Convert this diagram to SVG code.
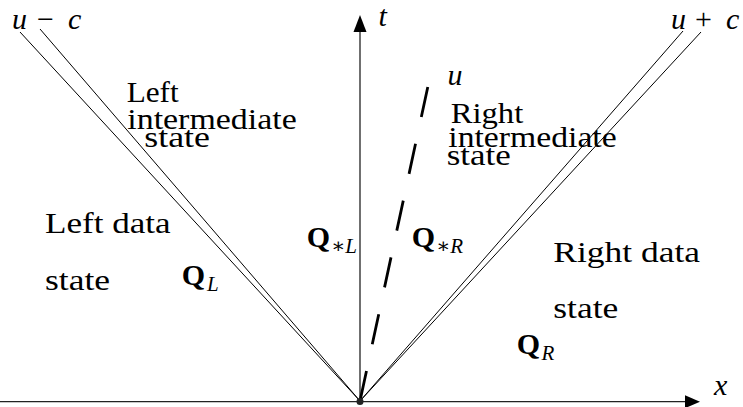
<svg xmlns="http://www.w3.org/2000/svg" width="743" height="407" viewBox="0 0 743 407">
<style>
.t{font-family:"Liberation Serif","Times New Roman",serif;font-size:30px;fill:#000}
.m{font-family:"Liberation Serif","Times New Roman",serif;font-size:30px;font-style:italic;fill:#000}
.q{font-family:"Liberation Serif","Times New Roman",serif;font-size:30px;font-weight:bold;fill:#000}
.s{font-family:"Liberation Serif","DejaVu Serif",serif;font-size:21px;font-style:italic;fill:#000}
.ln{stroke:#000;stroke-width:1;fill:none}
.ax{stroke:#222;stroke-width:1.3;fill:none}
</style>
<rect width="743" height="407" fill="#fff"/>
<g id="connectors">
  <line class="ax" x1="0" y1="401.7" x2="687" y2="401.7"/>
  <polygon points="700,401.7 685,395.2 685,408.2" fill="#000"/>
  <line class="ax" x1="360" y1="401.7" x2="360" y2="30"/>
  <polygon points="360,15 353.5,32 366.5,32" fill="#000"/>
  <line class="ln" x1="360" y1="401" x2="20" y2="32"/>
  <line class="ln" x1="360" y1="401" x2="40" y2="29"/>
  <line class="ln" x1="360" y1="401" x2="683" y2="31"/>
  <line class="ln" x1="360" y1="401" x2="701" y2="32"/>
  <line x1="360" y1="401" x2="427.8" y2="87" stroke="#000" stroke-width="2.8" stroke-dasharray="30.7 27.4" fill="none"/>
  <circle cx="360" cy="401.5" r="3.5" fill="#222"/>
</g>
<g id="axis-t"><text class="m" x="378.5" y="26">t</text></g>
<g id="axis-x"><text class="m" x="714" y="395">x</text></g>
<g id="wave-left">
  <text class="m" x="12" y="29.3">u</text>
  <text class="t" x="37" y="29.3">−</text>
  <text class="m" x="68" y="29.3">c</text>
</g>
<g id="wave-right">
  <text class="m" x="671" y="28.5">u</text>
  <text class="t" x="695" y="28.5">+</text>
  <text class="m" x="726" y="28.5">c</text>
</g>
<g id="wave-contact"><text class="m" x="447.5" y="85">u</text></g>
<g id="left-intermediate">
  <text class="t" x="126.7" y="101.7" textLength="52" lengthAdjust="spacingAndGlyphs">Left</text>
  <text class="t" x="127.3" y="129" textLength="169.4" lengthAdjust="spacingAndGlyphs">intermediate</text>
  <text class="t" x="144.3" y="146.7" textLength="65.7" lengthAdjust="spacingAndGlyphs">state</text>
</g>
<g id="right-intermediate">
  <text class="t" x="450.7" y="123.3" textLength="72.6" lengthAdjust="spacingAndGlyphs">Right</text>
  <text class="t" x="448.3" y="147.3" textLength="168.4" lengthAdjust="spacingAndGlyphs">intermediate</text>
  <text class="t" x="446.7" y="165" textLength="64" lengthAdjust="spacingAndGlyphs">state</text>
</g>
<g id="left-data">
  <text class="t" x="45" y="233.3" textLength="125.7" lengthAdjust="spacingAndGlyphs">Left data</text>
  <text class="t" x="45" y="290" textLength="65" lengthAdjust="spacingAndGlyphs">state</text>
</g>
<g id="right-data">
  <text class="t" x="553.3" y="261.7" textLength="146.7" lengthAdjust="spacingAndGlyphs">Right data</text>
  <text class="t" x="553.3" y="318.3" textLength="65" lengthAdjust="spacingAndGlyphs">state</text>
</g>
<g id="QL">
  <text class="q" x="181.7" y="285">Q</text>
  <text class="s" x="207" y="291">L</text>
</g>
<g id="QstarL">
  <text class="q" x="306.7" y="247">Q</text>
  <text class="s" x="331" y="253"><tspan font-style="normal">∗</tspan>L</text>
</g>
<g id="QstarR">
  <text class="q" x="411.7" y="247">Q</text>
  <text class="s" x="436" y="253"><tspan font-style="normal">∗</tspan>R</text>
</g>
<g id="QR">
  <text class="q" x="516.7" y="354">Q</text>
  <text class="s" x="541.5" y="360">R</text>
</g>
</svg>
